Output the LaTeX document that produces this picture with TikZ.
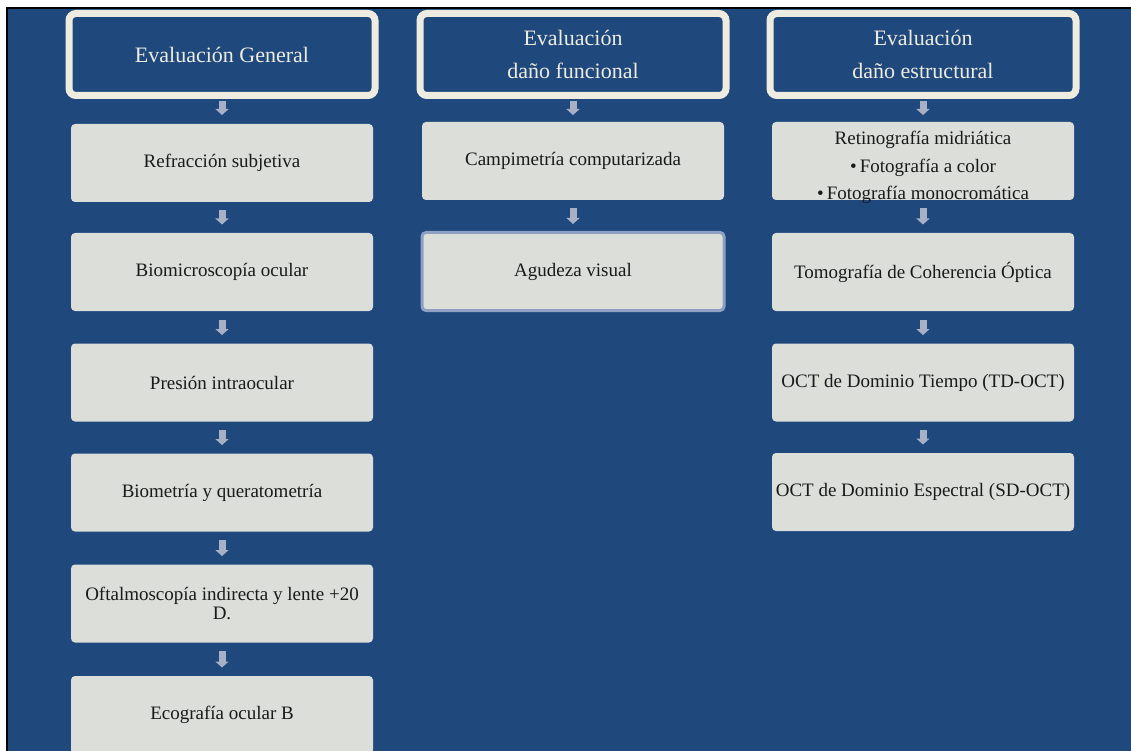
\documentclass[tikz,border=0pt]{standalone}
\usepackage{fontspec}
\setmainfont{Liberation Serif}
\usetikzlibrary{arrows.meta}
\definecolor{bgblue}{HTML}{1F497D}
\definecolor{boxgray}{HTML}{DCDEDA}
\definecolor{cream}{HTML}{EEECE1}
\definecolor{arrowc}{HTML}{A7B0C5}
\definecolor{ink}{HTML}{1A1A1A}
\definecolor{glow}{HTML}{8FA0C2}

\begin{document}
\begin{tikzpicture}[x=1pt,y=-1pt,
  stepbox/.style={fill=boxgray, rounded corners=4pt, minimum width=302pt,
    minimum height=78pt, inner sep=0pt, outer sep=0pt, text=ink,
    align=center, font=\fontsize{19}{22}\selectfont},
  boxtext/.style={inner sep=0pt, outer sep=0pt, text=ink, align=center,
    font=\fontsize{19}{27.5}\selectfont},
  headbox/.style={fill=bgblue, draw=cream, line width=7pt, rounded corners=7pt,
    minimum width=306pt, minimum height=82pt, inner sep=0pt, outer sep=0pt,
    text=cream, align=center, font=\fontsize{22}{33}\selectfont},
  flow/.style={draw=arrowc, line width=7pt, -{Triangle[width=13pt,length=6pt]}},
  rowflow/.style={flow, shorten <=8.5pt, shorten >=8.5pt}
]
\useasboundingbox (0,0) rectangle (1131,751);
% page frame
\fill[white] (0,0) rectangle (1131,751);
\fill[black] (6,7) rectangle (1131,751);
\fill[bgblue] (8,9) rectangle (1131,751);

% column headers
\node[headbox] (h1) at (222,54.5) {Evaluación General};
\node[headbox] (h2) at (573,54.5) {Evaluación\\daño funcional};
\node[headbox] (h3) at (923,54.5) {Evaluación\\daño estructural};

% general evaluation
\node[stepbox] (r1) at (222,163)   {Refracción subjetiva};
\node[stepbox] (r2) at (222,272)   {Biomicroscopía ocular};
\node[stepbox] (r3) at (222,382.5) {Presión intraocular};
\node[stepbox] (r4) at (222,492.5) {Biometría y queratometría};
\node[stepbox, font=\fontsize{19}{19}\selectfont] (r5) at (222,603.5)
  {Oftalmoscopía indirecta y lente +20\\D.};
\node[stepbox] (r6) at (222,715)   {Ecografía ocular B};

% functional damage
\node[stepbox] (c1) at (573,161)   {Campimetría computarizada};
\node[stepbox, draw=glow, line width=3pt] (c2) at (573,271.5) {Agudeza visual};

% structural damage
\node[stepbox] (s1) at (923,161) {};
\node[boxtext, anchor=base] (s1t) at (923,200)
  {Retinografía midriática\\\textbullet\,Fotografía a color\\\textbullet\,Fotografía monocromática};
\node[stepbox] (s2) at (923,272)   {Tomografía de Coherencia Óptica};
\node[stepbox] (s3) at (923,382.5) {OCT de Dominio Tiempo (TD-OCT)};
\node[stepbox] (s4) at (923,492)   {OCT de Dominio Espectral (SD-OCT)};

% connectors
\draw[flow, shorten <=5.5pt, shorten >=9pt] (h1) -- (r1);
\draw[rowflow] (r1) -- (r2);
\draw[rowflow] (r2) -- (r3);
\draw[rowflow] (r3) -- (r4);
\draw[rowflow] (r4) -- (r5);
\draw[rowflow] (r5) -- (r6);

\draw[flow, shorten <=5.5pt, shorten >=7pt] (h2) -- (c1);
\draw[rowflow] (c1) -- (c2);

\draw[flow, shorten <=5.5pt, shorten >=7pt] (h3) -- (s1);
\draw[rowflow] (s1) -- (s2);
\draw[rowflow] (s2) -- (s3);
\draw[rowflow] (s3) -- (s4);
\end{tikzpicture}
\end{document}
